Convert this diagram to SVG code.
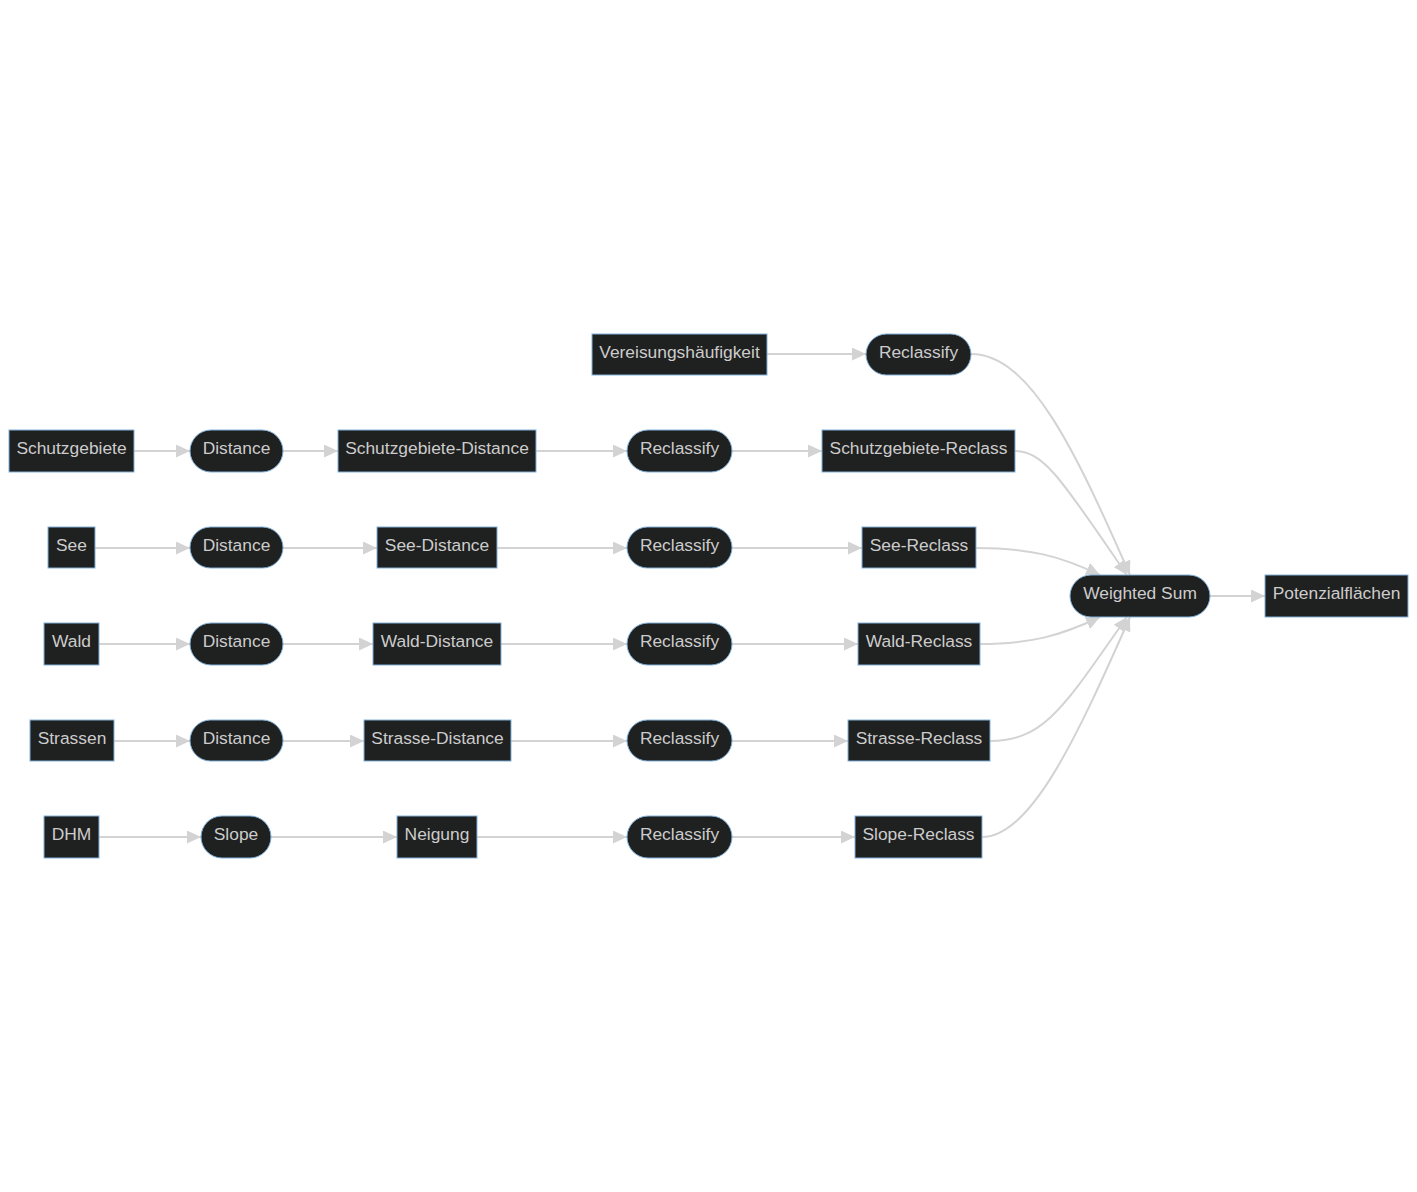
<svg xmlns="http://www.w3.org/2000/svg" width="1417" height="1192" viewBox="0 0 1417 1192">
<style>
.n rect{fill:#1f2020;stroke:#81b1db;stroke-width:1}
.n text{font-family:"Liberation Sans",Arial,sans-serif;font-size:17.4px;fill:#cccccc;text-anchor:middle}
.e path{fill:none;stroke:#d3d3d3;stroke-width:2;marker-end:url(#ah)}
</style>
<defs>
<marker id="ah" viewBox="0 0 14 13" refX="14" refY="6.5" markerUnits="userSpaceOnUse" markerWidth="14" markerHeight="13" orient="auto">
<path d="M0,0 L14,6.5 L0,13 z" fill="#d3d3d3"/>
</marker>
</defs>
<rect width="1417" height="1192" fill="#ffffff"/>
<g id="edges" class="e">
<path d="M767,354 L866,354"/>
<path d="M134,451 L190,451"/>
<path d="M283,451 L338,451"/>
<path d="M536,451 L627,451"/>
<path d="M732,451 L822,451"/>
<path d="M95,548 L190,548"/>
<path d="M283,548 L377,548"/>
<path d="M497,548 L627,548"/>
<path d="M732,548 L862,548"/>
<path d="M99,644 L190,644"/>
<path d="M283,644 L373,644"/>
<path d="M501,644 L627,644"/>
<path d="M732,644 L858,644"/>
<path d="M114,741 L190,741"/>
<path d="M283,741 L364,741"/>
<path d="M511,741 L627,741"/>
<path d="M732,741 L848,741"/>
<path d="M99,837 L201,837"/>
<path d="M271,837 L397,837"/>
<path d="M477,837 L627,837"/>
<path d="M732,837 L855,837"/>
<path d="M971,354 C1030,354 1075,450 1130,575"/>
<path d="M1015,451 C1045,451 1065,485 1127,575"/>
<path d="M976,548 C1030,548 1060,556 1100,575"/>
<path d="M980,644 C1030,644 1060,636 1100,617"/>
<path d="M990,741 C1045,741 1065,705 1127,617"/>
<path d="M982,837 C1030,837 1075,742 1130,617"/>
<path d="M1210,596 L1265,596"/>
</g>
<g id="n_vereisung" class="n"><rect x="592" y="334" width="175" height="41"/><text x="679.5" y="357.5">Vereisungshäufigkeit</text></g>
<g id="n_reclass0" class="n"><rect x="866" y="334" width="105" height="41" rx="20.5" ry="20.5"/><text x="918.5" y="357.5">Reclassify</text></g>
<g id="n_schutz" class="n"><rect x="9" y="430" width="125" height="42"/><text x="71.5" y="453.5">Schutzgebiete</text></g>
<g id="n_dist1" class="n"><rect x="190" y="430" width="93" height="42" rx="21" ry="21"/><text x="236.5" y="453.5">Distance</text></g>
<g id="n_schutzdist" class="n"><rect x="338" y="430" width="198" height="42"/><text x="437" y="453.5">Schutzgebiete-Distance</text></g>
<g id="n_reclass1" class="n"><rect x="627" y="430" width="105" height="42" rx="21" ry="21"/><text x="679.5" y="453.5">Reclassify</text></g>
<g id="n_schutzrec" class="n"><rect x="822" y="430" width="193" height="42"/><text x="918.5" y="453.5">Schutzgebiete-Reclass</text></g>
<g id="n_see" class="n"><rect x="48" y="527" width="47" height="41"/><text x="71.5" y="550.5">See</text></g>
<g id="n_dist2" class="n"><rect x="190" y="527" width="93" height="41" rx="20.5" ry="20.5"/><text x="236.5" y="550.5">Distance</text></g>
<g id="n_seedist" class="n"><rect x="377" y="527" width="120" height="41"/><text x="437" y="550.5">See-Distance</text></g>
<g id="n_reclass2" class="n"><rect x="627" y="527" width="105" height="41" rx="20.5" ry="20.5"/><text x="679.5" y="550.5">Reclassify</text></g>
<g id="n_seerec" class="n"><rect x="862" y="527" width="114" height="41"/><text x="919" y="550.5">See-Reclass</text></g>
<g id="n_wald" class="n"><rect x="44" y="623" width="55" height="42"/><text x="71.5" y="646.5">Wald</text></g>
<g id="n_dist3" class="n"><rect x="190" y="623" width="93" height="42" rx="21" ry="21"/><text x="236.5" y="646.5">Distance</text></g>
<g id="n_walddist" class="n"><rect x="373" y="623" width="128" height="42"/><text x="437" y="646.5">Wald-Distance</text></g>
<g id="n_reclass3" class="n"><rect x="627" y="623" width="105" height="42" rx="21" ry="21"/><text x="679.5" y="646.5">Reclassify</text></g>
<g id="n_waldrec" class="n"><rect x="858" y="623" width="122" height="42"/><text x="919" y="646.5">Wald-Reclass</text></g>
<g id="n_strassen" class="n"><rect x="30" y="720" width="84" height="41"/><text x="72" y="743.5">Strassen</text></g>
<g id="n_dist4" class="n"><rect x="190" y="720" width="93" height="41" rx="20.5" ry="20.5"/><text x="236.5" y="743.5">Distance</text></g>
<g id="n_strdist" class="n"><rect x="364" y="720" width="147" height="41"/><text x="437.5" y="743.5">Strasse-Distance</text></g>
<g id="n_reclass4" class="n"><rect x="627" y="720" width="105" height="41" rx="20.5" ry="20.5"/><text x="679.5" y="743.5">Reclassify</text></g>
<g id="n_strrec" class="n"><rect x="848" y="720" width="142" height="41"/><text x="919" y="743.5">Strasse-Reclass</text></g>
<g id="n_dhm" class="n"><rect x="44" y="816" width="55" height="42"/><text x="71.5" y="840">DHM</text></g>
<g id="n_slope" class="n"><rect x="201" y="816" width="70" height="42" rx="21" ry="21"/><text x="236" y="840">Slope</text></g>
<g id="n_neigung" class="n"><rect x="397" y="816" width="80" height="42"/><text x="437" y="840">Neigung</text></g>
<g id="n_reclass5" class="n"><rect x="627" y="816" width="105" height="42" rx="21" ry="21"/><text x="679.5" y="840">Reclassify</text></g>
<g id="n_sloperec" class="n"><rect x="855" y="816" width="127" height="42"/><text x="918.5" y="840">Slope-Reclass</text></g>
<g id="n_wsum" class="n"><rect x="1070" y="575" width="140" height="42" rx="21" ry="21"/><text x="1140" y="598.5">Weighted Sum</text></g>
<g id="n_pot" class="n"><rect x="1265" y="575" width="143" height="42"/><text x="1336.5" y="598.5">Potenzialflächen</text></g>
</svg>
